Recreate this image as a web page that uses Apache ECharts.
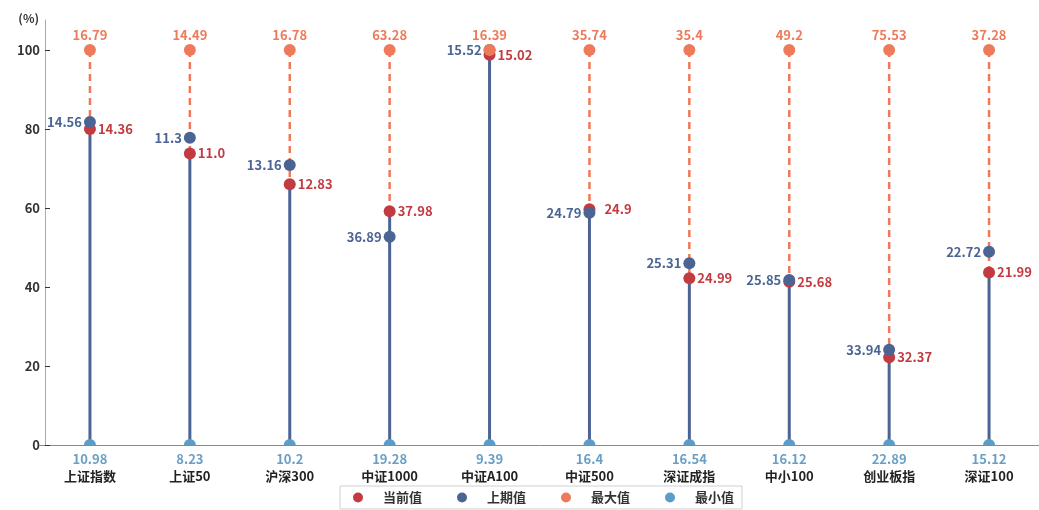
<!DOCTYPE html>
<html>
<head>
<meta charset="utf-8">
<title>估值分位</title>
<script src="https://cdn.jsdelivr.net/npm/echarts@6/dist/echarts.min.js"></script>
<style>
  html, body { margin: 0; padding: 0; background: #fff; }
  #chart { width: 1039px; height: 510px; }
</style>
</head>
<body>
<div id="chart"></div>
<script>
// 指数名称
var categories = ['上证指数', '上证50', '沪深300', '中证1000', '中证A100', '中证500', '深证成指', '中小100', '创业板指', '深证100'];
// 分位 (%) —— 点的纵坐标
var curPct  = [80.0, 73.8, 66.0, 59.2, 98.8, 59.7, 42.2, 41.3, 22.2, 43.7];
var prevPct = [81.8, 77.8, 70.9, 52.7, 100, 58.8, 46.0, 41.8, 24.1, 48.9];
var maxPct  = [100, 100, 100, 100, 100, 100, 100, 100, 100, 100];
var minPct  = [0, 0, 0, 0, 0, 0, 0, 0, 0, 0];
// 标签上显示的数值
var curVal  = ['14.36', '11.0', '12.83', '37.98', '15.02', '24.9', '24.99', '25.68', '32.37', '21.99'];
var prevVal = ['14.56', '11.3', '13.16', '36.89', '15.52', '24.79', '25.31', '25.85', '33.94', '22.72'];
var maxVal  = ['16.79', '14.49', '16.78', '63.28', '16.39', '35.74', '35.4', '49.2', '75.53', '37.28'];
var minVal  = ['10.98', '8.23', '10.2', '19.28', '9.39', '16.4', '16.54', '16.12', '22.89', '15.12'];
var yTicks  = [0, 20, 40, 60, 80, 100];

var FONT = 'Noto Sans CJK SC';
var RED = '#C23B40', BLUE = '#4B6493', ORANGE = '#EE7A5B', LIGHT = '#5C9DC8';

var chart = echarts.init(document.getElementById('chart'));

function lbl(color, pos, vals) {
    return {
        show: true,
        position: pos,
        distance: 2,
        color: color,
        fontFamily: FONT,
        fontWeight: 'bold',
        fontSize: 13,
        formatter: function (p) { return vals[p.dataIndex]; }
    };
}

var option = {
    animation: false,
    textStyle: { fontFamily: FONT },
    grid: { left: 40, right: 0, top: 20, bottom: 65 },
    legend: {
        data: ['当前值', '上期值', '最大值', '最小值'],
        top: 486,
        left: 340,
        padding: [5, 8, 5, 13],
        borderColor: '#d0d0d0',
        borderWidth: 1,
        icon: 'circle',
        itemWidth: 40,
        itemHeight: 10,
        itemGap: 35,
        textStyle: { color: '#333', fontWeight: 'bold', fontSize: 13, fontFamily: FONT }
    },
    xAxis: {
        type: 'category',
        data: categories,
        axisLine: { lineStyle: { color: '#8a8a8a', width: 1 } },
        axisTick: { show: false },
        axisLabel: { color: '#222', fontWeight: 'bold', fontSize: 13, margin: 25, fontFamily: FONT }
    },
    yAxis: {
        type: 'value',
        min: 0,
        max: 107.6,
        offset: -5,
        name: '(%)',
        nameLocation: 'end',
        nameGap: 2,
        nameTextStyle: { color: '#333', fontWeight: 'bold', fontSize: 12, align: 'right', verticalAlign: 'middle', padding: [0, 6, 0, 0] },
        splitLine: { show: false },
        axisLine: { show: true, lineStyle: { color: '#aaa', width: 1 } },
        axisTick: { show: true, inside: true, length: 5, lineStyle: { color: '#333' }, customValues: yTicks },
        axisLabel: { color: '#333', fontWeight: 'bold', fontSize: 13, margin: 5, customValues: yTicks }
    },
    series: [
        {
            name: 'stem',
            type: 'custom',
            z: 1,
            silent: true,
            data: curPct.map(function (v, i) { return [i, v, maxPct[i], minPct[i]]; }),
            encode: { x: 0, y: 1 },
            renderItem: function (params, api) {
                var i = api.value(0);
                var p0 = api.coord([i, api.value(3)]);
                var p1 = api.coord([i, api.value(1)]);
                var p2 = api.coord([i, api.value(2)]);
                return {
                    type: 'group',
                    children: [
                        { type: 'line', shape: { x1: p0[0], y1: p0[1], x2: p1[0], y2: p1[1] },
                          style: { stroke: BLUE, lineWidth: 3 } },
                        { type: 'line', shape: { x1: p2[0], y1: p2[1], x2: p1[0], y2: p1[1] },
                          style: { stroke: ORANGE, lineWidth: 2.5, lineDash: [7, 5] } }
                    ]
                };
            }
        },
        {
            name: '当前值',
            type: 'scatter',
            z: 2,
            symbolSize: 12,
            itemStyle: { color: RED, opacity: 1 },
            label: lbl(RED, 'right', curVal),
            data: curPct.map(function (v, i) {
                return i === 5 ? { value: v, label: { distance: 9 } } : v;
            })
        },
        {
            name: '上期值',
            type: 'scatter',
            z: 2,
            symbolSize: 12,
            itemStyle: { color: BLUE, opacity: 1 },
            label: lbl(BLUE, 'left', prevVal),
            data: prevPct
        },
        {
            name: '最大值',
            type: 'scatter',
            z: 2,
            symbolSize: 12,
            itemStyle: { color: ORANGE, opacity: 1 },
            label: lbl(ORANGE, 'top', maxVal),
            data: maxPct
        },
        {
            name: '最小值',
            type: 'scatter',
            z: 2,
            symbol: 'path://M0,10A10,10,0,0,1,20,10Z',
            symbolSize: [12, 6],
            symbolOffset: [0, -3],
            itemStyle: { color: LIGHT, opacity: 1 },
            label: (function () { var l = lbl('#6A9FC4', 'bottom', minVal); l.distance = 8; return l; })(),
            data: minPct
        }
    ]
};

chart.setOption(option);
</script>
</body>
</html>
